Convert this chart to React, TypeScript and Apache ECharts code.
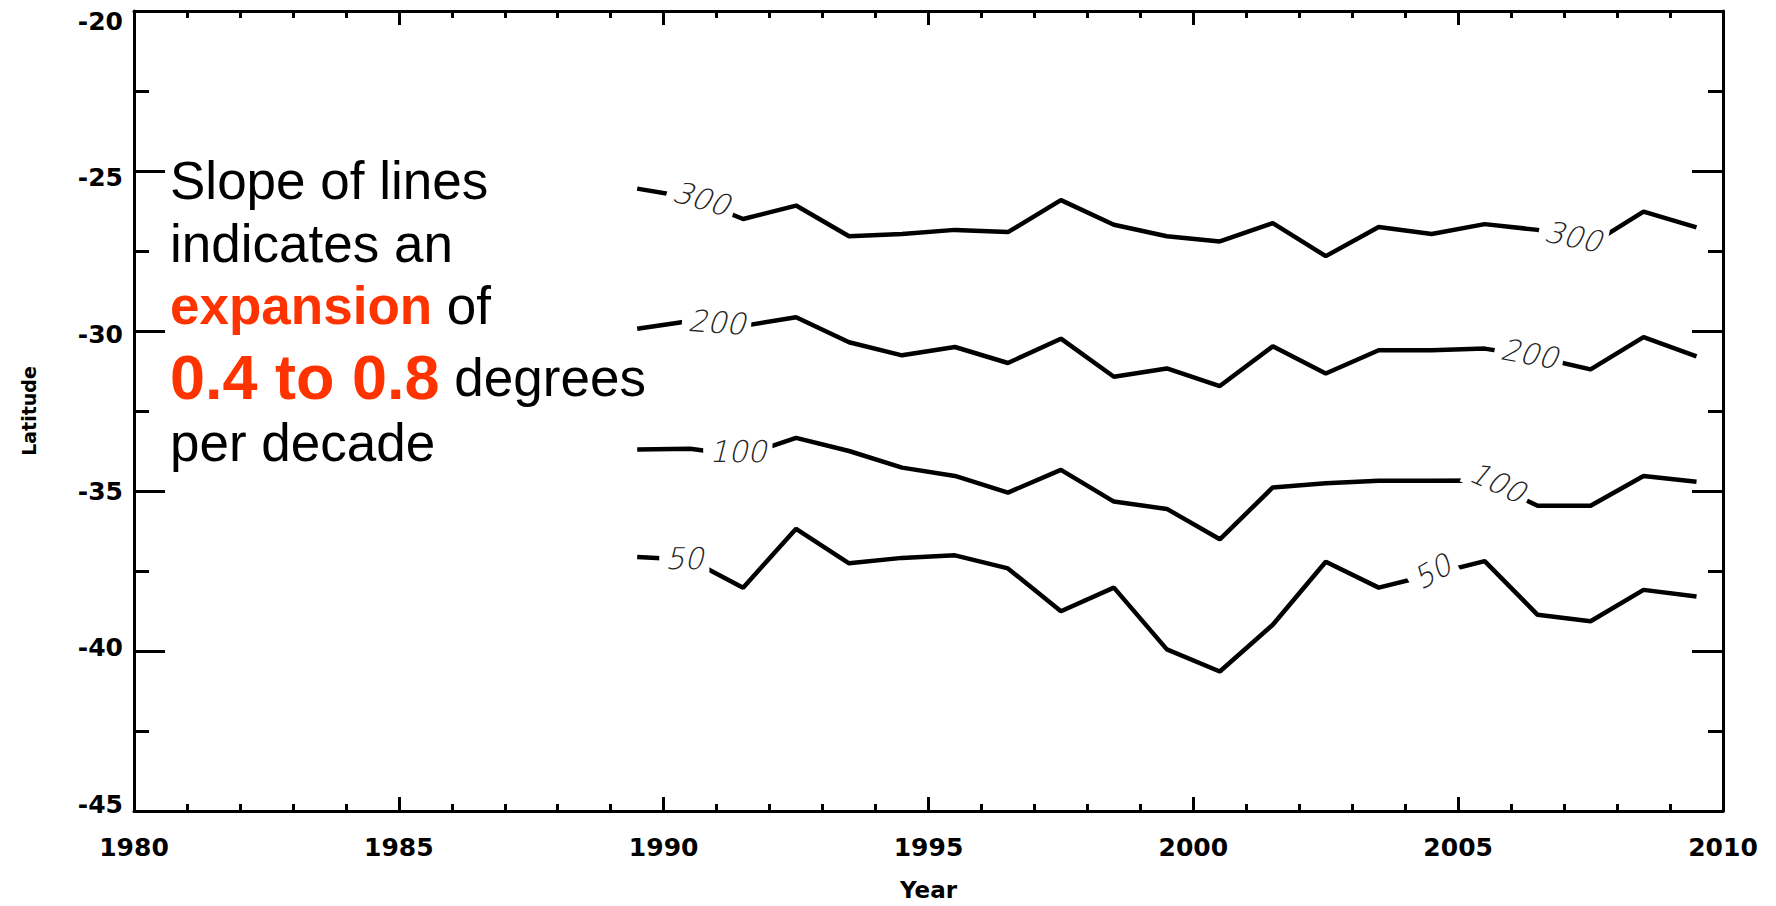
import React, { useEffect, useRef } from 'react';
import * as echarts from 'echarts';

// Contour vertices (year, latitude)
const years = [1989.5, 1990.5, 1991.5, 1992.5, 1993.5, 1994.5, 1995.5, 1996.5, 1997.5, 1998.5, 1999.5, 2000.5, 2001.5, 2002.5, 2003.5, 2004.5, 2005.5, 2006.5, 2007.5, 2008.5, 2009.5];
const lat300 = [-25.55, -25.83, -26.5, -26.08, -27.04, -26.97, -26.84, -26.91, -25.91, -26.68, -27.04, -27.2, -26.63, -27.66, -26.75, -26.97, -26.66, -26.84, -27.3, -26.27, -26.76];
const lat200 = [-29.93, -29.69, -29.84, -29.57, -30.35, -30.76, -30.5, -31.0, -30.24, -31.43, -31.17, -31.72, -30.48, -31.33, -30.6, -30.6, -30.55, -30.82, -31.2, -30.19, -30.79];
const lat100 = [-33.7, -33.68, -33.9, -33.34, -33.75, -34.27, -34.53, -35.05, -34.34, -35.33, -35.56, -36.51, -34.89, -34.76, -34.68, -34.68, -34.67, -35.46, -35.46, -34.53, -34.71];
const lat50 = [-37.06, -37.15, -38.02, -36.18, -37.26, -37.09, -37.01, -37.42, -38.76, -38.02, -39.95, -40.64, -39.18, -37.21, -38.02, -37.61, -37.19, -38.87, -39.07, -38.09, -38.3];

// Contour labels
const labelTexts = ['300', '300', '200', '200', '100', '100', '50', '50'];
const labelYears = [1990.71, 2007.17, 1991.0, 2006.34, 1991.4, 2005.74, 1990.39, 2004.51];
const labelLats = [-25.86, -27.05, -29.73, -30.71, -33.75, -34.73, -37.11, -37.52];
const labelAngles = [-16, -12, -4, -10, 0, -25, 0, 30];

// Axes
const xMin = 1980;
const xMax = 2010;
const xInterval = 5;
const yMin = -45;
const yMax = -20;
const yInterval = 5;

const RED = '#ff3300';
const TXT_FONT = '"Liberation Sans", Arial, Helvetica, sans-serif';
const AX_FONT = '"DejaVu Sans", sans-serif';
const CONTOUR_FONT = '"DejaVu Sans Light", "DejaVu Sans", sans-serif';

export default function App() {
  const ref = useRef<HTMLDivElement>(null);

  useEffect(() => {
    document.body.style.margin = '0';
    document.body.style.overflow = 'hidden';
    const chart = echarts.init(ref.current as HTMLDivElement, null, { renderer: 'svg' });

    const axisLine = { show: true, onZero: false, lineStyle: { color: '#000', width: 3 } };
    const labelStyle = { fontFamily: AX_FONT, fontWeight: 'bold' as const, fontSize: 25, color: '#000' };

    const mkX = (position: string, showLabel: boolean) => ({
      type: 'value',
      position,
      min: xMin,
      max: xMax,
      interval: xInterval,
      axisLine,
      axisTick: { show: true, inside: true, length: 14, lineStyle: { color: '#000', width: 3 } },
      minorTick: { show: true, splitNumber: 5, length: 7, lineStyle: { color: '#000', width: 3 } },
      splitLine: { show: false },
      minorSplitLine: { show: false },
      axisLabel: { show: showLabel, margin: 24, formatter: (v: number) => String(v), ...labelStyle },
      name: showLabel ? 'Year' : '',
      nameLocation: 'middle',
      nameGap: 67,
      nameTextStyle: { fontFamily: AX_FONT, fontWeight: 'bold', fontSize: 23, color: '#000' },
    });

    const yRich: Record<string, any> = {
      s0: { ...labelStyle, padding: [20, 0, 0, 0] },
      s1: { ...labelStyle, padding: [12, 0, 0, 0] },
      s2: { ...labelStyle, padding: [6, 0, 0, 0] },
      s3: { ...labelStyle },
      s4: { ...labelStyle, padding: [0, 0, 8, 0] },
      s5: { ...labelStyle, padding: [0, 0, 14, 0] },
    };

    const mkY = (position: string, showLabel: boolean) => ({
      type: 'value',
      position,
      min: yMin,
      max: yMax,
      interval: yInterval,
      axisLine,
      axisTick: { show: true, inside: true, length: 31, lineStyle: { color: '#000', width: 3 } },
      minorTick: { show: true, splitNumber: 2, length: 15, lineStyle: { color: '#000', width: 3 } },
      splitLine: { show: false },
      minorSplitLine: { show: false },
      axisLabel: {
        show: showLabel,
        margin: 11,
        formatter: (v: number) => `{s${Math.round((yMax - v) / yInterval)}|${v}}`,
        rich: yRich,
        ...labelStyle,
      },
      name: showLabel ? 'Latitude' : '',
      nameLocation: 'middle',
      nameGap: 96,
      nameRotate: 90,
      nameTextStyle: { fontFamily: AX_FONT, fontWeight: 'bold', fontSize: 19, color: '#000' },
    });

    const lineSeries = (data: number[]) => ({
      type: 'line',
      data: years.map((x, i) => [x, data[i]]),
      showSymbol: false,
      symbol: 'none',
      lineStyle: { color: '#000', width: 4.5 },
      z: 2,
      silent: true,
    });

    const option = {
      animation: false,
      backgroundColor: '#fff',
      grid: { left: 134, right: 53, top: 11, bottom: 88, containLabel: false },
      xAxis: [mkX('bottom', true), mkX('top', false)],
      yAxis: [mkY('left', true), mkY('right', false)],
      series: [
        lineSeries(lat300),
        lineSeries(lat200),
        lineSeries(lat100),
        lineSeries(lat50),
        {
          type: 'scatter',
          symbolSize: 0,
          z: 5,
          silent: true,
          itemStyle: { opacity: 1 },
          data: labelYears.map((x, i) => ({
            value: [x, labelLats[i]],
            label: { rotate: labelAngles[i], formatter: labelTexts[i] },
          })),
          label: {
            show: true,
            position: 'inside',
            opacity: 1,
            fontFamily: CONTOUR_FONT,
            fontStyle: 'italic',
            fontWeight: 'lighter',
            fontSize: 30,
            color: '#222',
            backgroundColor: '#fff',
            padding: [0, 6],
          },
        },
      ],
      graphic: [
        {
          type: 'text', x: 170, y: 180, z: 10,
          style: { text: 'Slope of lines', fontFamily: TXT_FONT, fontSize: 53, fill: '#000', verticalAlign: 'middle' },
        },
        {
          type: 'text', x: 170, y: 243, z: 10,
          style: { text: 'indicates an', fontFamily: TXT_FONT, fontSize: 53, fill: '#000', verticalAlign: 'middle' },
        },
        {
          type: 'text', x: 170, y: 305, z: 10,
          style: {
            text: '{r|expansion}{n| of}',
            verticalAlign: 'middle',
            rich: {
              r: { fontFamily: TXT_FONT, fontSize: 53, fontWeight: 'bold', fill: RED, color: RED },
              n: { fontFamily: TXT_FONT, fontSize: 53, fill: '#000', color: '#000' },
            },
          },
        },
        {
          type: 'text', x: 170, y: 377, z: 10,
          style: {
            text: '{r|0.4 to 0.8}{n| degrees}',
            verticalAlign: 'middle',
            rich: {
              r: { fontFamily: TXT_FONT, fontSize: 63, fontWeight: 'bold', fill: RED, color: RED },
              n: { fontFamily: TXT_FONT, fontSize: 53, fill: '#000', color: '#000' },
            },
          },
        },
        {
          type: 'text', x: 170, y: 442, z: 10,
          style: { text: 'per decade', fontFamily: TXT_FONT, fontSize: 53, fill: '#000', verticalAlign: 'middle' },
        },
      ],
    };

    chart.setOption(option as any);
    return () => chart.dispose();
  }, []);

  return <div ref={ref} style={{ width: 1776, height: 906, background: '#fff' }} />;
}
